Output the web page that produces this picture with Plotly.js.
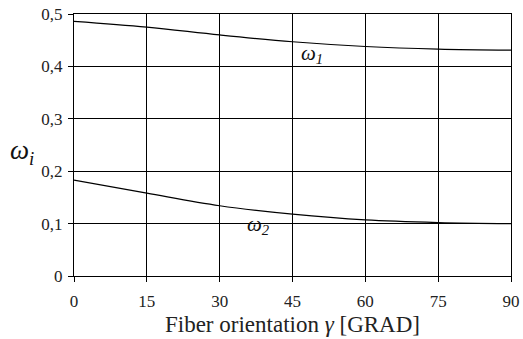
<!DOCTYPE html>
<html>
<head>
<meta charset="utf-8">
<script src="https://cdn.plot.ly/plotly-3.0.1.min.js"></script>
<style>html,body{margin:0;padding:0;background:#fff;}#chart{width:523px;height:339px;}</style>
</head>
<body>
<div id="chart"></div>
<script>
const angles = [0, 15, 30, 45, 60, 75, 90];
const omega1 = [0.486, 0.475, 0.460, 0.447, 0.438, 0.433, 0.431];
const omega2 = [0.183, 0.158, 0.134, 0.118, 0.107, 0.102, 0.100];
const xTicks = [0, 15, 30, 45, 60, 75, 90];
const yTickVals = [0, 0.1, 0.2, 0.3, 0.4, 0.5];
const yTickText = ['0', '0,1', '0,2', '0,3', '0,4', '0,5'];

const font = 'Times New Roman, Liberation Serif, serif';
const traces = [
  {x: angles, y: omega1, mode: 'lines', line: {color: '#000', width: 1.2, shape: 'spline'}, hoverinfo: 'skip'},
  {x: angles, y: omega2, mode: 'lines', line: {color: '#000', width: 1.2, shape: 'spline'}, hoverinfo: 'skip'}
];
const layout = {
  width: 523, height: 339,
  margin: {l: 74, r: 12, t: 14, b: 63},
  paper_bgcolor: '#fff', plot_bgcolor: '#fff',
  showlegend: false,
  font: {family: font, color: '#222', size: 17},
  xaxis: {
    range: [0, 90], tickvals: xTicks, ticktext: xTicks.map(String),
    showgrid: true, gridcolor: '#000', gridwidth: 1,
    showline: true, linecolor: '#000', linewidth: 1, mirror: true,
    ticks: 'outside', ticklen: 5, tickcolor: '#000', tickwidth: 1,
    ticklabelstandoff: 5,
    zeroline: false, fixedrange: true,
    tickfont: {family: font, size: 17, color: '#222'},
    title: {text: 'Fiber orientation <i>γ</i> [GRAD]', font: {family: font, size: 23, color: '#222'}, standoff: 5}
  },
  yaxis: {
    range: [0, 0.5], tickvals: yTickVals, ticktext: yTickText,
    showgrid: true, gridcolor: '#000', gridwidth: 1,
    showline: true, linecolor: '#000', linewidth: 1, mirror: true,
    ticks: 'outside', ticklen: 5, tickcolor: '#000', tickwidth: 1,
    ticklabelstandoff: 2,
    zeroline: false, fixedrange: true,
    tickfont: {family: font, size: 17, color: '#222'}
  },
  annotations: [
    {xref: 'paper', yref: 'paper', x: -0.12, y: 0.475, xanchor: 'center', yanchor: 'middle',
     text: '<i>ω<sub>i</sub></i>', showarrow: false, font: {family: font, size: 27, color: '#111'}},
    {xref: 'x', yref: 'y', x: 49, y: 0.423, xanchor: 'center', yanchor: 'middle',
     text: '<i>ω<sub>1</sub></i>', showarrow: false, font: {family: font, size: 21, color: '#111'}},
    {xref: 'x', yref: 'y', x: 38, y: 0.098, xanchor: 'center', yanchor: 'middle',
     text: '<i>ω<sub>2</sub></i>', showarrow: false, font: {family: font, size: 21, color: '#111'}}
  ]
};
Plotly.newPlot('chart', traces, layout, {displayModeBar: false, staticPlot: true});
</script>
</body>
</html>
